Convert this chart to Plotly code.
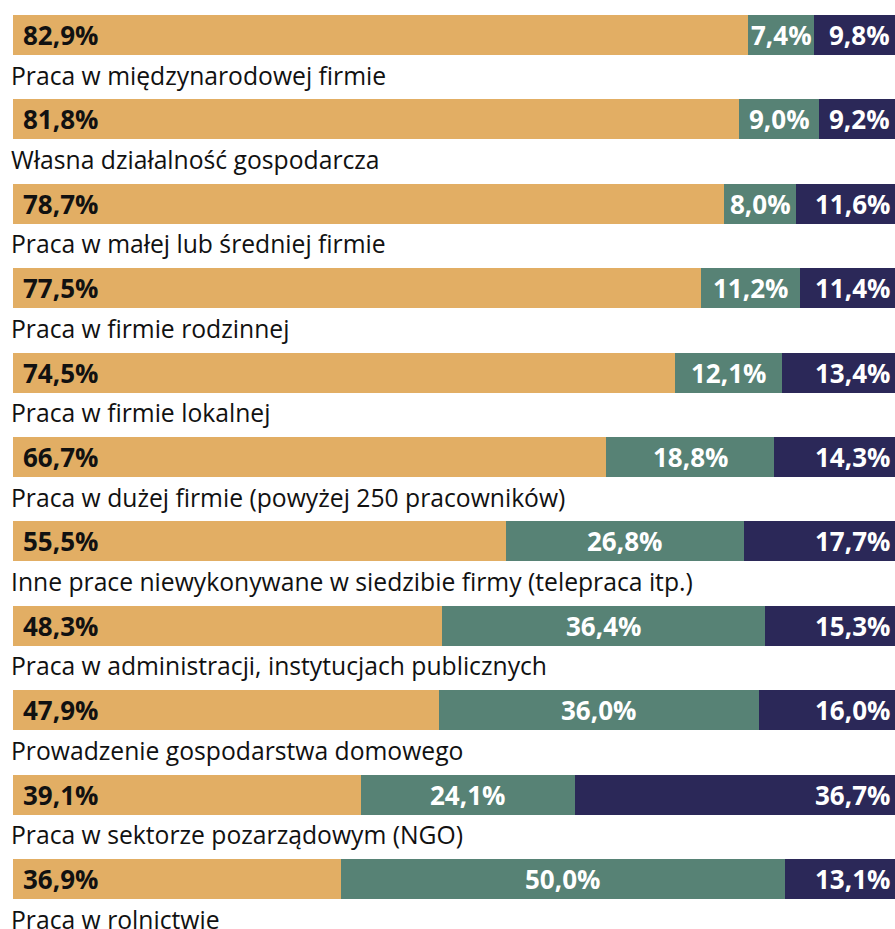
import plotly.graph_objects as go

categories = [
    "Praca w międzynarodowej firmie",
    "Własna działalność gospodarcza",
    "Praca w małej lub średniej firmie",
    "Praca w firmie rodzinnej",
    "Praca w firmie lokalnej",
    "Praca w dużej firmie (powyżej 250 pracowników)",
    "Inne prace niewykonywane w siedzibie firmy (telepraca itp.)",
    "Praca w administracji, instytucjach publicznych",
    "Prowadzenie gospodarstwa domowego",
    "Praca w sektorze pozarządowym (NGO)",
    "Praca w rolnictwie",
]
series_a = [82.9, 81.8, 78.7, 77.5, 74.5, 66.7, 55.5, 48.3, 47.9, 39.1, 36.9]
series_b = [7.4, 9.0, 8.0, 11.2, 12.1, 18.8, 26.8, 36.4, 36.0, 24.1, 50.0]
series_c = [9.8, 9.2, 11.6, 11.4, 13.4, 14.3, 17.7, 15.3, 16.0, 36.7, 13.1]

COL_A = "#E2AE64"
COL_B = "#578275"
COL_C = "#2B2858"

W, H = 895, 929
ML = 13
PITCH = 84.4
ROW0 = 35.0
BAR_PX = 40.0

n = len(categories)
ys = list(range(n))
y_top = -ROW0 / PITCH
y_bot = y_top + H / PITCH

plot_w_full = 888.0
x_max = 100.0 * (W - ML) / plot_w_full

def fmt(v):
    return f"{v:.1f}".replace(".", ",") + "%"

fig = go.Figure()
for vals, col in [(series_a, COL_A), (series_b, COL_B), (series_c, COL_C)]:
    fig.add_trace(go.Bar(
        x=vals, y=ys, orientation="h", marker=dict(color=col, line=dict(width=0)),
        width=BAR_PX / PITCH, hoverinfo="skip", showlegend=False,
    ))

VAL_FONT = "Open Sans"
LAB_FONT = "Open Sans"
VAL_SIZE = 26
LAB_SIZE = 24.7
annotations = []
for i in range(n):
    tot = series_a[i] + series_b[i] + series_c[i]
    a = series_a[i] / tot * 100
    b = series_b[i] / tot * 100
    annotations.append(dict(
        x=0, y=i, xref="x", yref="y", text="<b>" + fmt(series_a[i]) + "</b>",
        showarrow=False, xanchor="left", yanchor="middle", xshift=8,
        font=dict(family=VAL_FONT, size=VAL_SIZE, color="#111111"),
    ))
    annotations.append(dict(
        x=a + b / 2, y=i, xref="x", yref="y", text="<b>" + fmt(series_b[i]) + "</b>",
        showarrow=False, xanchor="center", yanchor="middle",
        font=dict(family=VAL_FONT, size=VAL_SIZE, color="white"),
    ))
    annotations.append(dict(
        x=x_max, y=i, xref="x", yref="y", text="<b>" + fmt(series_c[i]) + "</b>",
        showarrow=False, xanchor="right", yanchor="middle", xshift=-3,
        font=dict(family=VAL_FONT, size=VAL_SIZE, color="white"),
    ))
    annotations.append(dict(
        x=0, y=i + 40.0 / PITCH, xref="x", yref="y", text=categories[i],
        showarrow=False, xanchor="left", yanchor="middle", xshift=-3,
        borderpad=0,
        font=dict(family=LAB_FONT, size=LAB_SIZE, color="#111111"),
    ))

fig.update_layout(
    barmode="stack", barnorm="percent",
    width=W, height=H,
    margin=dict(l=ML, r=0, t=0, b=0),
    paper_bgcolor="white", plot_bgcolor="white",
    xaxis=dict(range=[0, x_max], visible=False, fixedrange=True),
    yaxis=dict(range=[y_bot, y_top], visible=False, fixedrange=True),
    annotations=annotations,
)
fig.write_html("out.html", config={"displayModeBar": False},
               post_script="document.body.style.margin='0';")
